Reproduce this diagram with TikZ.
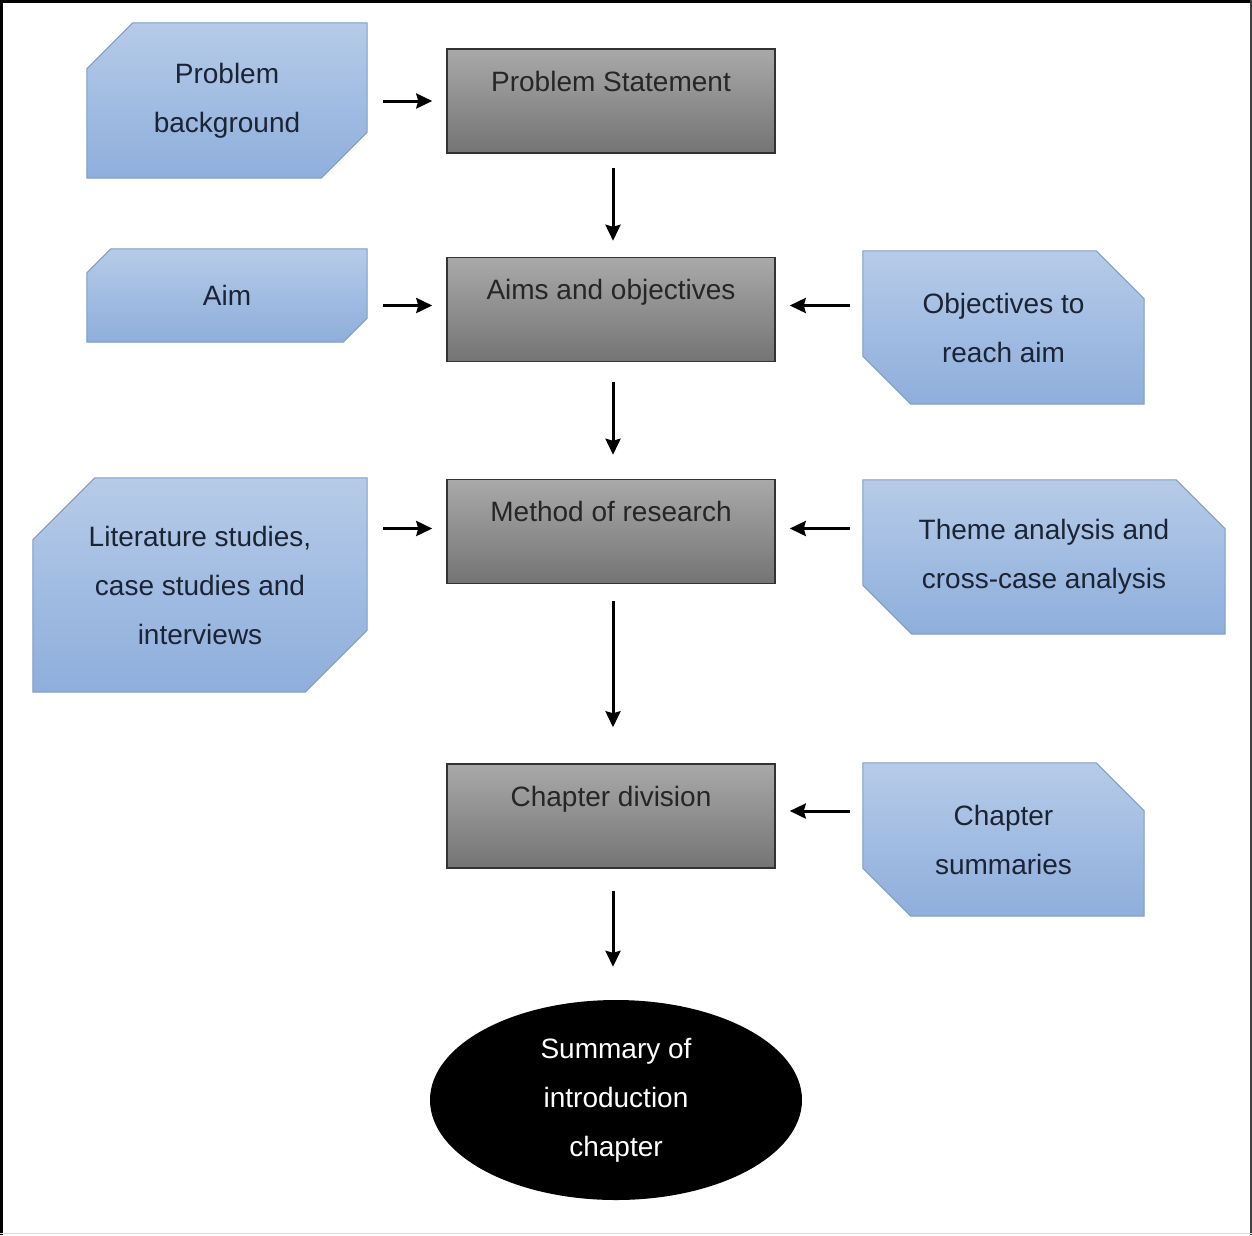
\documentclass[tikz,border=0pt]{standalone}
\usepackage{fontspec}
\setmainfont{Liberation Sans}
\usetikzlibrary{shapes.geometric,calc,arrows.meta}
\pgfdeclarelayer{background}
\pgfdeclarelayer{canvas}
\pgfsetlayers{canvas,background,main}

\definecolor{noteTop}{HTML}{B6CBE8}
\definecolor{noteBot}{HTML}{8EAEDC}
\definecolor{noteEdge}{HTML}{7F9CC4}
\definecolor{stageTop}{HTML}{A9A9A9}
\definecolor{stageBot}{HTML}{747474}
\definecolor{noteInk}{HTML}{1B2434}

\tikzset{
  txt/.style={font=\fontsize{28}{49}\selectfont},
  stage/.style={txt, rectangle, draw=black!80, line width=1.5pt,
    top color=stageTop, bottom color=stageBot, text=black!85,
    minimum width=328pt, inner sep=0pt, text height=42pt, text depth=62pt},
  note/.style={txt, rectangle, inner sep=0pt, align=center, text=noteInk},
  notefill/.style={top color=noteTop, bottom color=noteBot, draw=noteEdge, line width=1pt},
  flow/.style={line width=3pt, -{Stealth[length=16pt, width=15pt, inset=2pt]}},
}

% box with the top-left and bottom-right corners cut off
\newcommand{\cutTLBR}[2]{%
  \path[notefill] ($(#1.north west)+(0,#2)$) -- ($(#1.north west)+(#2,0)$)
    -- (#1.north east) -- ($(#1.south east)+(0,-#2)$)
    -- ($(#1.south east)+(-#2,0)$) -- (#1.south west) -- cycle;}
% box with the top-right and bottom-left corners cut off
\newcommand{\cutTRBL}[2]{%
  \path[notefill] (#1.north west) -- ($(#1.north east)+(-#2,0)$)
    -- ($(#1.north east)+(0,#2)$) -- (#1.south east)
    -- ($(#1.south west)+(#2,0)$) -- ($(#1.south west)+(0,-#2)$) -- cycle;}

\begin{document}
\begin{tikzpicture}[x=1pt, y=-1pt]
  \useasboundingbox (0,0) rectangle (1252,1235);
  \begin{pgfonlayer}{canvas}
    \fill[white] (0,0) rectangle (1252,1235);
  \end{pgfonlayer}
  % frame
  \draw[line width=3pt, black] (1.5,1235) -- (1.5,1.5) -- (1252,1.5);
  \draw[line width=2pt, black!75] (1250.5,0) -- (1250.5,1235);
  \draw[line width=1pt, black!15] (0,1233.5) -- (1252,1233.5);

  % main stages
  \node[stage] (ps)  at (611,101) {Problem Statement};
  \node[stage] (ao)  at (611,309.5) {Aims and objectives};
  \node[stage] (mr)  at (611,531.5) {Method of research};
  \node[stage] (cd)  at (611,816) {Chapter division};
  \node[ellipse, fill=black, minimum width=372pt, minimum height=200pt,
        inner sep=0pt, align=center, text=white, txt] (sum) at (616,1100)
        {Summary of\\introduction\\chapter};

  % side notes
  \node[note, minimum width=280pt, minimum height=155pt] (pb)  at (227,100.5) {Problem\\background};
  \node[note, minimum width=280pt, minimum height=93pt]  (aim) at (227,295.5) {Aim};
  \node[note, minimum width=281pt, minimum height=153pt] (obj) at (1003.5,327.5) {Objectives to\\reach aim};
  \node[note, minimum width=334pt, minimum height=214pt] (lit) at (200,585) {Literature studies,\\case studies and\\interviews};
  \node[note, minimum width=362pt, minimum height=154pt] (tha) at (1044,557) {Theme analysis and\\cross-case analysis};
  \node[note, minimum width=281pt, minimum height=153pt] (chs) at (1003.5,839.5) {Chapter\\summaries};

  \begin{pgfonlayer}{background}
    \cutTLBR{pb}{46}
    \cutTLBR{aim}{24}
    \cutTRBL{obj}{48}
    \cutTLBR{lit}{62}
    \cutTRBL{tha}{49}
    \cutTRBL{chs}{48}
  \end{pgfonlayer}

  % connectors
  \draw[flow] ([xshift=16pt]pb.east|-ps.center) -- ([xshift=-14pt]ps.west|-ps.center);
  \draw[flow] ([xshift=16pt]aim.east|-ao.center) ++(0,-4) coordinate (t) -- ([xshift=-14pt]ao.west|-t);
  \draw[flow] ([xshift=16pt]lit.east|-mr.center) ++(0,-3) coordinate (t) -- ([xshift=-14pt]mr.west|-t);
  \draw[flow] ([xshift=-13pt]obj.west|-ao.center) ++(0,-4) coordinate (t) -- ([xshift=14pt]ao.east|-t);
  \draw[flow] ([xshift=-13pt]tha.west|-mr.center) ++(0,-3) coordinate (t) -- ([xshift=14pt]mr.east|-t);
  \draw[flow] ([xshift=-13pt]chs.west|-cd.center) ++(0,-5) coordinate (t) -- ([xshift=14pt]cd.east|-t);

  \draw[flow] ([shift={(2pt,-14pt)}]ps.south) -- ([shift={(2pt,16pt)}]ao.north);
  \draw[flow] ([shift={(2pt,-20pt)}]ao.south) -- ([shift={(2pt,24pt)}]mr.north);
  \draw[flow] ([shift={(2pt,-17pt)}]mr.south) -- ([shift={(2pt,36pt)}]cd.north);
  \path ([shift={(2pt,-22pt)}]cd.south) coordinate (t) (t|-sum.north) ++(0,-33) coordinate (u);
  \draw[flow] (t) -- (u);
\end{tikzpicture}
\end{document}
